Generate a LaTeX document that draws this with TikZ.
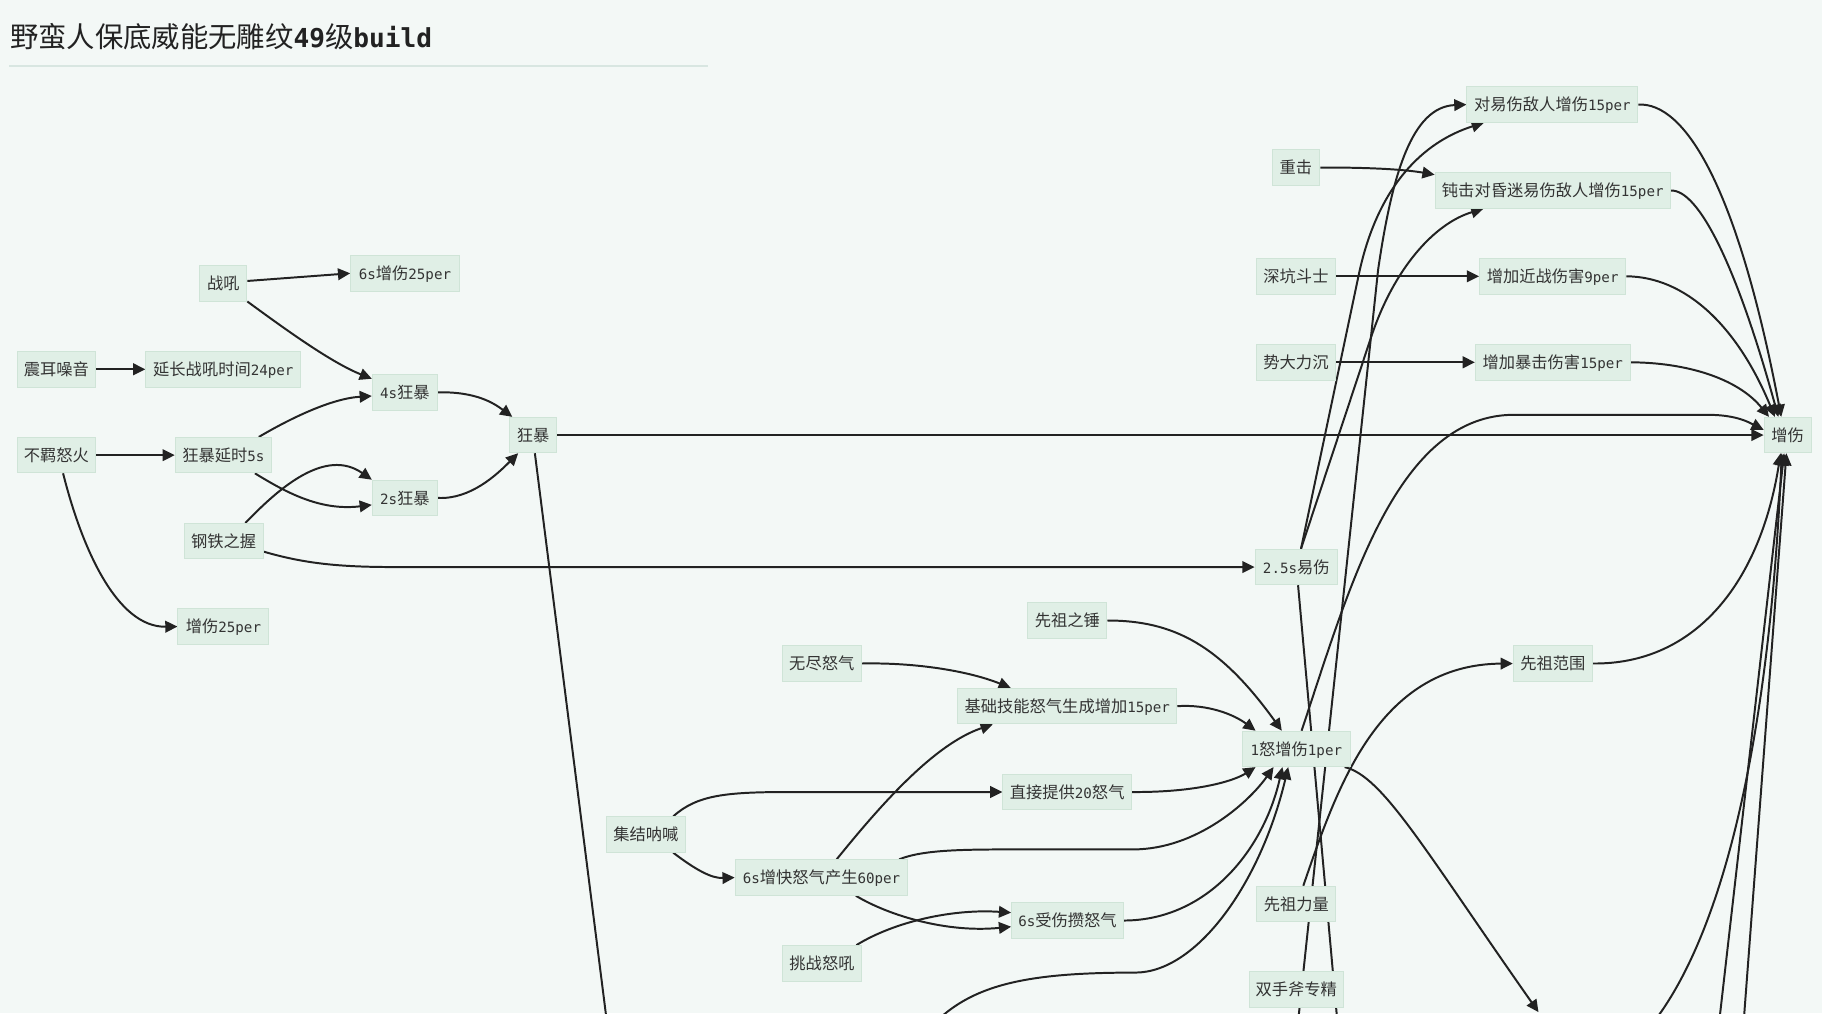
\documentclass[tikz,border=0pt]{standalone}
\usepackage{fontspec}
\setmainfont{Noto Sans CJK SC}
\newfontfamily\cjkf{Noto Sans CJK SC}
\newfontfamily\monof{DejaVu Sans Mono}
\usetikzlibrary{arrows.meta}
\definecolor{bgc}{HTML}{F3F8F6}
\definecolor{nodefill}{HTML}{E0EFE6}
\definecolor{nodeline}{HTML}{CFE4D7}
\definecolor{txt}{HTML}{333333}
\definecolor{edgec}{HTML}{222222}
\definecolor{rulec}{HTML}{D8E6E1}
\newcommand\latn[1]{{\monof\fontsize{12.2}{12.2}\selectfont #1}}
\newcommand\bmono[1]{{\monof\bfseries\fontsize{22.5}{22.5}\selectfont #1}}
\pgfdeclarelayer{back}
\pgfdeclarelayer{edges}
\pgfsetlayers{back,edges,main}
\begin{document}
\begin{tikzpicture}[x=1pt,y=-1pt,
  box/.style={draw=nodeline, line width=0.8pt, fill=nodefill, text=txt,
    inner sep=0pt, minimum height=30.5pt, text height=13.5pt, text depth=3pt,
    font=\cjkf\fontsize{14}{14}\selectfont},
  edge/.style={draw=edgec, line width=1.7pt, -{Triangle[length=10.5pt,width=10pt]}},
  wire/.style={draw=edgec, line width=1.7pt}]
\path[use as bounding box] (0,0) rectangle (1568,872);
\begin{pgfonlayer}{back}
  \fill[bgc] (0,0) rectangle (1568,872);
\end{pgfonlayer}

% heading
\node[anchor=base west, inner sep=0pt, text=edgec, font=\cjkf\fontsize{24.4}{24.4}\selectfont]
  (title) at (8.5,41) {野蛮人保底威能无雕纹\bmono{49}级\bmono{build}};
\draw[rulec, line width=1pt] (7.9,56.8) -- (609.7,56.8);

% nodes
\node[box, minimum width=40.5pt] (zh) at (192.2,243.8) {战吼};
\node[box, minimum width=93.5pt] (zs25) at (348.5,235.2) {\latn{6s}增伤\latn{25per}};
\node[box, minimum width=67.5pt] (zr) at (48.5,317.8) {震耳噪音};
\node[box, minimum width=133.4pt] (yc) at (192.2,317.8) {延长战吼时间\latn{24per}};
\node[box, minimum width=56pt] (k4) at (348.4,337.6) {\latn{4s}狂暴};
\node[box, minimum width=67.5pt] (bj) at (48.5,391.7) {不羁怒火};
\node[box, minimum width=83pt] (ys5) at (192.3,391.7) {狂暴延时\latn{5s}};
\node[box, minimum width=41pt] (kb) at (458.8,374.4) {狂暴};
\node[box, minimum width=56pt] (k2) at (348.4,428.5) {\latn{2s}狂暴};
\node[box, minimum width=68pt] (gt) at (192.4,465.7) {钢铁之握};
\node[box, minimum width=78.3pt] (z25) at (192.3,539.2) {增伤\latn{25per}};
\node[box, minimum width=71pt] (ys) at (1115.6,488) {\latn{2.5s}易伤};
\node[box, minimum width=68pt] (xzc) at (918.6,534) {先祖之锤};
\node[box, minimum width=68pt] (wj) at (707.2,571) {无尽怒气};
\node[box, minimum width=188.5pt] (jc) at (918.5,607.7) {基础技能怒气生成增加\latn{15per}};
\node[box, minimum width=92.4pt] (yn) at (1115.6,644.5) {\latn{1}怒增伤\latn{1per}};
\node[box, minimum width=68pt] (xfw) at (1336.3,571) {先祖范围};
\node[box, minimum width=110.7pt] (zj) at (918.4,681.6) {直接提供\latn{20}怒气};
\node[box, minimum width=68.2pt] (jj) at (555.9,718.2) {集结呐喊};
\node[box, minimum width=148.7pt] (kk) at (707,755.2) {\latn{6s}增快怒气产生\latn{60per}};
\node[box, minimum width=96.3pt] (sh) at (918.7,792.2) {\latn{6s}受伤攒怒气};
\node[box, minimum width=68.4pt] (tz) at (707.4,829) {挑战怒吼};
\node[box, minimum width=68.2pt] (xl) at (1115.6,777.9) {先祖力量};
\node[box, minimum width=81.5pt] (sf) at (1115.6,851.6) {双手斧专精};
\node[box, minimum width=41pt] (zj2) at (1115.3,144.2) {重击};
\node[box, minimum width=147.2pt] (dy) at (1336,90) {对易伤敌人增伤\latn{15per}};
\node[box, minimum width=202.6pt] (dj) at (1336.3,164) {钝击对昏迷易伤敌人增伤\latn{15per}};
\node[box, minimum width=68.3pt] (sk) at (1115.3,237.8) {深坑斗士};
\node[box, minimum width=126pt] (jz) at (1336.2,237.8) {增加近战伤害\latn{9per}};
\node[box, minimum width=68.3pt] (sd) at (1115.3,311.8) {势大力沉};
\node[box, minimum width=133.2pt] (bs) at (1336.3,311.8) {增加暴击伤害\latn{15per}};
\node[box, minimum width=40.5pt] (zsh) at (1538.4,374.4) {增伤};

% loose ends of connectors that run past the lower edge
\coordinate (kbd) at (535,980);
\coordinate (ysd) at (1160,980);
\coordinate (dysrc) at (1108.5,960);
\coordinate (ynd) at (1324,871);
\coordinate (ynsrc) at (785,905);
\coordinate (zsa) at (1405,900);
\coordinate (zsb) at (1468,980);
\coordinate (zsc) at (1493,980);

\begin{pgfonlayer}{edges}
\clip (0,0) rectangle (1568,872);
% left part
\draw[edge] ([yshift=2pt]zh.east) -- (zs25.west);
\draw[edge] (zh.south east) .. controls (245,283) and (285,312) .. ([yshift=-4pt]k4.north west);
\draw[edge] (zr.east) -- (yc.west);
\draw[edge] (bj.east) -- (ys5.west);
\draw[edge] ([xshift=5.8pt]bj.south) .. controls (70,470) and (100,540) .. (z25.west);
\draw[edge] ([xshift=-11.5pt]ys5.north east) .. controls (250,360) and (285,343) .. ([yshift=-3.2pt]k4.west);
\draw[edge] ([xshift=-14.8pt]ys5.south east) .. controls (245,423) and (275,440) .. ([yshift=-6pt]k2.west);
\draw[edge] ([xshift=-15.6pt]gt.north east) .. controls (240,420) and (280,385) .. (k2.north west);
\draw[edge] ([yshift=-9pt]gt.east) .. controls (262,485) and (292,488) .. (340,488) -- (ys.west);
\draw[edge] (k4.east) .. controls (410,337) and (425,347) .. ([xshift=3pt]kb.north west);
\draw[edge] (k2.east) .. controls (405,430) and (428,408) .. ([xshift=8pt]kb.south west);
\draw[edge] (kb.east) -- (zsh.west);
\draw[wire] ([xshift=1.5pt]kb.south) -- (kbd);

% right upper part
\draw[edge] (zj2.east) .. controls (1180,144) and (1210,146) .. ([yshift=-2pt]dj.north west);
\draw[edge] (sk.east) -- (jz.west);
\draw[edge] (sd.east) -- (bs.west);
\draw[edge] (dy.east) .. controls (1450,88) and (1495,160) .. ([xshift=-5.5pt]zsh.north);
\draw[edge] (dj.east) .. controls (1462,163) and (1495,230) .. ([xshift=-8pt]zsh.north);
\draw[edge] (jz.east) .. controls (1450,238) and (1495,280) .. ([xshift=-11pt]zsh.north);
\draw[edge] (bs.east) .. controls (1450,312) and (1495,325) .. ([xshift=-16pt]zsh.north);
\draw[edge] ([xshift=4.5pt]yn.north) .. controls (1160,510) and (1200,360) .. (1300,357)
  -- (1470,357) .. controls (1495,357) and (1506,364) .. ([yshift=4.5pt]zsh.west);
\draw[edge] ([xshift=4pt]ys.north) -- (1169,238) .. controls (1185,160) and (1225,122) .. ([xshift=15pt]dy.south west);
\draw[edge] ([xshift=4pt]ys.north) -- (1180,290) .. controls (1200,230) and (1235,192) .. ([xshift=42pt]dj.south west);
\draw[edge] (dysrc) -- (1186,232) .. controls (1198,150) and (1215,92) .. (dy.west);
\draw[wire] ([xshift=1.5pt]ys.south) -- (ysd);
\draw[edge] ([xshift=6pt]xl.north) .. controls (1150,680) and (1185,572) .. (xfw.west);
\draw[edge] (xfw.east) .. controls (1460,572) and (1515,500) .. ([xshift=-6pt]zsh.south);
\draw[edge] (zsa) .. controls (1478,830) and (1522,650) .. ([xshift=-5pt]zsh.south);
\draw[edge] (zsb) -- ([xshift=-3pt]zsh.south);
\draw[edge] (zsc) -- ([xshift=-1pt]zsh.south);
\draw[edge] ([xshift=-5pt]yn.south east) .. controls (1190,668) and (1225,730) .. (ynd);

% middle part
\draw[edge] (xzc.east) .. controls (1010,534) and (1050,555) .. ([xshift=-12.5pt]yn.north);
\draw[edge] (wj.east) .. controls (790,570) and (835,578) .. ([xshift=46pt]jc.north west);
\draw[edge] (jc.east) .. controls (1040,606) and (1062,615) .. ([xshift=11.5pt]yn.north west);
\draw[edge] (zj.east) .. controls (1030,682) and (1062,672) .. ([xshift=11.5pt]yn.south west);
\draw[edge] ([xshift=-11pt]jj.north east) .. controls (600,684) and (625,681.6) .. (680,681.6) -- (zj.west);
\draw[edge] ([xshift=-11pt]jj.south east) .. controls (598,748) and (612,756) .. (kk.west);
\draw[edge] ([xshift=13pt]kk.north) .. controls (760,690) and (805,640) .. ([xshift=30.5pt]jc.south west);
\draw[edge] ([xshift=-8pt]kk.north east) .. controls (795,731) and (830,731) .. (880,731)
  -- (975,731) .. controls (1030,731) and (1075,690) .. ([xshift=27pt]yn.south west);
\draw[edge] ([xshift=29.5pt]kk.south) .. controls (765,788) and (815,803) .. ([yshift=-5.3pt]sh.west);
\draw[edge] ([xshift=-5pt]tz.north east) .. controls (770,793) and (820,782) .. ([yshift=6.8pt]sh.west);
\draw[edge] (sh.east) .. controls (1040,792) and (1088,730) .. ([xshift=-12pt]yn.south);
\draw[edge] (ynsrc) .. controls (820,850) and (870,837) .. (977,837)
  .. controls (1030,837) and (1085,760) .. ([xshift=-7pt]yn.south);
\end{pgfonlayer}
\end{tikzpicture}
\end{document}
